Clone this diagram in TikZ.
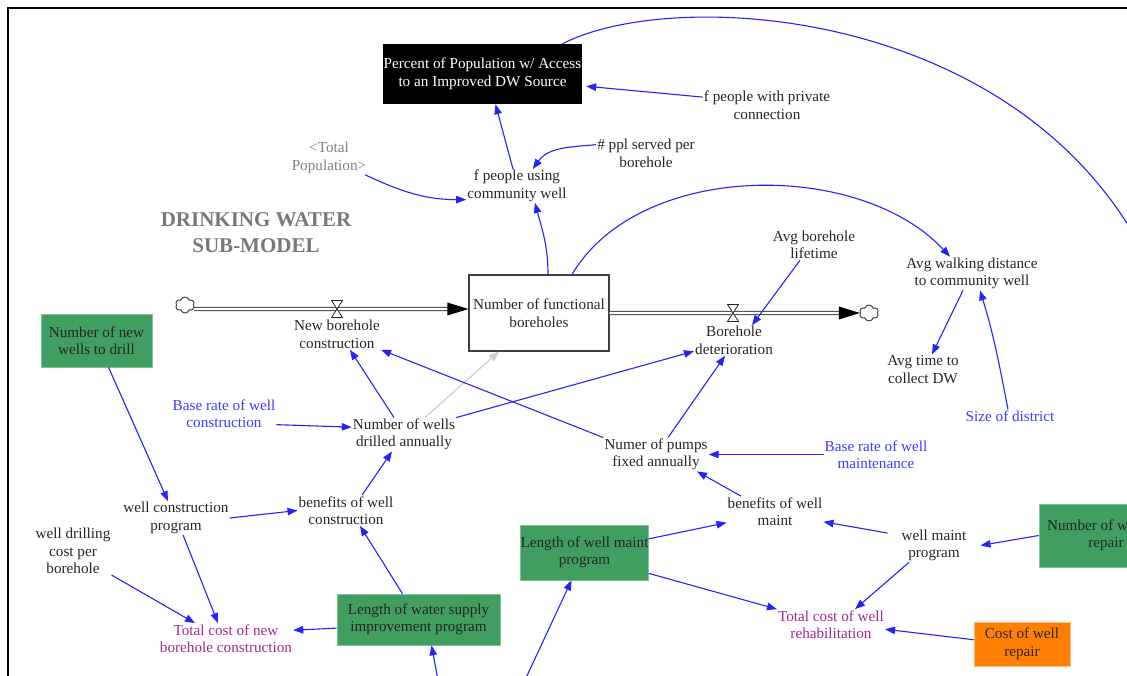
\documentclass[tikz,border=0pt]{standalone}
\usepackage{fontspec}
\setmainfont{Liberation Serif}
\usetikzlibrary{arrows.meta,shapes.symbols,calc}

\definecolor{linkblue}{RGB}{35,35,250}
\definecolor{constblue}{RGB}{60,60,255}
\definecolor{costpurple}{RGB}{160,40,150}
\definecolor{shadowgray}{RGB}{128,128,128}
\definecolor{titlegray}{RGB}{120,120,120}
\definecolor{policygreen}{RGB}{64,158,96}
\definecolor{policyedge}{RGB}{130,195,150}
\definecolor{repairorange}{RGB}{255,128,0}
\definecolor{repairedge}{RGB}{255,190,120}

\newcommand{\vsmfont}{\fontsize{15.2}{17.5}\selectfont}

\begin{document}
\begin{tikzpicture}[x=1pt,y=-1pt,
  var/.style={align=center, font=\vsmfont, text=black!85, inner sep=1pt},
  constvar/.style={var, text=constblue},
  costvar/.style={var, text=costpurple},
  shadowvar/.style={var, text=shadowgray},
  policybox/.style={var, fill=policygreen, draw=policyedge, line width=0.6pt, inner sep=0pt},
  repairbox/.style={var, fill=repairorange, draw=repairedge, line width=0.6pt, inner sep=0pt},
  stockbox/.style={var, draw=black!75, line width=1.1pt, fill=white, inner sep=0pt},
  link/.style={draw=linkblue, line width=1.1pt, -{Triangle[length=10pt,width=7.5pt]}},
  greylink/.style={draw=black!20, line width=1.1pt, -{Triangle[length=10pt,width=7.5pt]}},
  pipe/.style={draw=black!75, double=white, double distance=2.2pt, line width=1.1pt},
  valvestyle/.style={draw=black!85, fill=white, line width=0.8pt, line join=miter},
  puff/.style={cloud, cloud puffs=6, aspect=1.25, draw=black!80, fill=white, line width=0.9pt,
               minimum width=19pt, minimum height=16pt, inner sep=0pt}]

\clip (0,0) rectangle (1127,676);
\fill[white] (0,0) rectangle (1127,676);

% frame of the sketch page
\draw[line width=2pt, black] (8,680) -- (8,8) -- (1130,8);

% ---------- stock and flows ----------
\node[stockbox, minimum width=140pt, minimum height=76pt] (stock) at (539,313) {Number of functional\\boreholes};
\node[puff] (src) at (185,305) {};
\node[puff] (snk) at (869,313) {};
\coordinate (v1) at (337,309);
\coordinate (v2) at (733,313);

\draw[pipe, shorten >=19pt] ([yshift=-4pt]src.east) -- ([yshift=4pt]stock.west);
\fill[black] ([yshift=4pt]stock.west) -- ++(-21,-6.5) -- ++(0,13) -- cycle;
\draw[pipe, shorten >=19pt] (stock.east) -- (snk.west);
\fill[black] (snk.west) -- ++(-21,-6.5) -- ++(0,13) -- cycle;

\begin{scope}[shift={(v1)}]
  \draw[valvestyle] (-5.5,-8.5) -- (5.5,-8.5) -- (-5.5,8.5) -- (5.5,8.5) -- cycle;
\end{scope}
\begin{scope}[shift={(v2)}]
  \draw[valvestyle] (-5.5,-8.5) -- (5.5,-8.5) -- (-5.5,8.5) -- (5.5,8.5) -- cycle;
\end{scope}

\node[var] (nbc) at (337,334.5) {New borehole\\construction};
\node[var] (bdet) at (734,340.5) {Borehole\\deterioration};

% ---------- top: access indicator ----------
\node[var, fill=black, text=white, minimum width=199pt, minimum height=60pt, inner sep=0pt] (pct) at (482.5,74)
  {Percent of Population w/ Access\\to an Improved DW Source};
\node[var] (priv) at (767,105) {f people with private\\connection};
\node[var] (ppl) at (646,153.5) {\# ppl served per\\borehole};
\node[shadowvar] (tpop) at (329,158) {<Total\\Population>};
\node[var] (fpu) at (517,186) {f people using\\community well};
\node[align=center, font=\bfseries\fontsize{21}{26}\selectfont, text=titlegray] (title) at (256,233)
  {DRINKING WATER\\SUB-MODEL};

% ---------- right: walking distance ----------
\node[var] (abl) at (814,245) {Avg borehole\\lifetime};
\node[var] (awd) at (972,273.5) {Avg walking distance\\to community well};
\node[var] (atc) at (923,369.5) {Avg time to\\collect DW};
\node[constvar] (sod) at (1010,416) {Size of district};
\coordinate (arcend) at (1140,245);

% ---------- construction side ----------
\node[policybox, minimum width=111pt, minimum height=53pt] (nnw) at (96.5,340.5) {Number of new\\wells to drill};
\node[constvar] (brc) at (224,413.5) {Base rate of well\\construction};
\node[var] (nwd) at (404,434.5) {Number of wells\\drilled annually};
\node[var] (wcp) at (176,518) {well construction\\program};
\node[var] (bwc) at (346,510.5) {benefits of well\\construction};
\node[var] (wdc) at (73,551) {well drilling\\cost per\\borehole};
\node[costvar] (tcn) at (226,638.5) {Total cost of new\\borehole construction};
\node[policybox, minimum width=163pt, minimum height=51pt] (lws) at (418.5,619.5) {Length of water supply\\improvement program};
\coordinate (lwsin) at (438,680);

% ---------- maintenance side ----------
\node[var] (npf) at (656,454.5) {Numer of pumps\\fixed annually};
\node[constvar] (brm) at (876,454.5) {Base rate of well\\maintenance};
\node[var] (bwm) at (775,511.5) {benefits of well\\maint};
\node[var, inner xsep=14pt] (wmp) at (934,545.5) {well maint\\program};
\node[policybox, minimum width=121pt, minimum height=55pt] (lwm) at (584.5,552.5) {Length of well maint\\program};
\coordinate (lwmin) at (525,680);
\node[policybox, minimum width=134pt, minimum height=63pt] (nwr) at (1106,535.5) {Number of wells to\\repair};
\node[costvar] (tcr) at (831,624.5) {Total cost of well\\rehabilitation};
\node[repairbox, minimum width=96pt, minimum height=44pt] (cwr) at (1022,644) {Cost of well\\repair};

% ---------- causal links ----------
\draw[link] ([xshift=80pt]pct.north) .. controls (670,-12) and (1000,5) .. (arcend);
\draw[link] ([xshift=-4pt]fpu.north) -- ([xshift=13pt]pct.south);
\draw[link] (priv.173) -- ([xshift=4pt]pct.-7);
\draw[link] (ppl.170) to[out=185,in=55] (fpu.47);
\draw[link] (tpop.-25) to[out=-25,in=180] (fpu.195);
\draw[link] ([xshift=9pt]stock.north) to[out=90,in=-75] ([xshift=18pt]fpu.south);
\draw[link] ([xshift=33pt]stock.north) .. controls (640,160) and (860,160) .. ([xshift=-22pt]awd.north);

\draw[link] ([xshift=-14pt]abl.south) -- ([xshift=18pt]bdet.north);
\draw[link] ([xshift=-9pt]awd.south) -- ([xshift=9pt]atc.north);
\draw[link] ([xshift=-2pt]sod.north) to[out=101,in=-73] ([xshift=8pt]awd.south);

\draw[link] (brc.-12) -- (nwd.172);
\draw[link] ([xshift=-10pt]nwd.north) -- ([xshift=13pt]nbc.south);
\draw[greylink] ([xshift=21pt]nwd.north) -- ([xshift=-40pt]stock.south);
\draw[link] (nwd.north east) -- (bdet.-165);
\draw[link] (npf.north west) -- (nbc.south east);
\draw[link] ([xshift=12pt]npf.north) -- ([xshift=-9pt]bdet.south);
\draw[link] (brm.west) -- (npf.east);
\draw[link] ([xshift=-34pt]bwm.north) -- ([xshift=41pt]npf.south);

\draw[link] ([xshift=12pt]nnw.south) -- ([xshift=-8pt]wcp.north);
\draw[link] (wcp.east) -- (bwc.west);
\draw[link] ([xshift=16pt]bwc.north) -- ([xshift=-12pt]nwd.south);
\draw[link] ([xshift=7pt]wcp.south) -- ([xshift=-8pt]tcn.north);
\draw[link] (wdc.south east) -- ([xshift=-31pt]tcn.north);
\draw[link] (lws.-174) -- (tcn.7);
\draw[link] ([xshift=-16pt]lws.north) -- ([xshift=14pt]bwc.south);
\draw[link] (lwsin) -- ([xshift=13pt]lws.south);

\draw[link] (lwmin) -- ([xshift=-13pt]lwm.south);
\draw[link] (lwm.12) -- (bwm.-167);
\draw[link] (lwm.-18) -- (tcr.north west);
\draw[link] (wmp.165) -- (bwm.-12);
\draw[link] (nwr.west) -- (wmp.east);
\draw[link] ([xshift=-25pt]wmp.south) -- ([xshift=24pt]tcr.north);
\draw[link] (cwr.175) -- (tcr.-5);

\end{tikzpicture}
\end{document}
